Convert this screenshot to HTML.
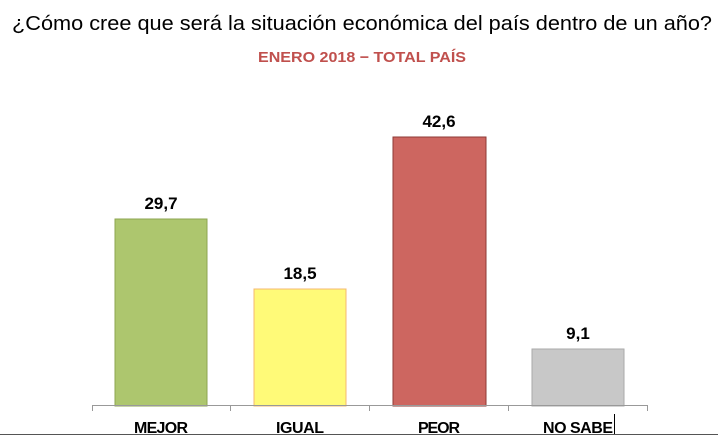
<!DOCTYPE html>
<html><head><meta charset="utf-8"><style>body{margin:0;background:#fff}</style></head><body>
<svg width="718" height="435" xmlns="http://www.w3.org/2000/svg" font-family="'Liberation Sans', sans-serif">
<rect width="718" height="435" fill="#fff"/>
<text x="12" y="30" font-size="20" textLength="700" lengthAdjust="spacingAndGlyphs" fill="#000">¿Cómo cree que será la situación económica del país dentro de un año?</text>
<text x="258" y="62" font-size="15" font-weight="bold" textLength="208" lengthAdjust="spacingAndGlyphs" fill="#c0504d">ENERO 2018 − TOTAL PAÍS</text>
<rect x="115" y="219" width="92" height="187" fill="#adc66e" stroke="#8da650"/>
<rect x="254" y="289" width="92" height="117" fill="#fffa78" stroke="#f4b870"/>
<rect x="393" y="137" width="93" height="269" fill="#cd6660" stroke="#8e3a36"/>
<rect x="532" y="349" width="92" height="57" fill="#c8c8c8" stroke="#aaa"/>
<g stroke="#999" stroke-width="1">
<line x1="92" y1="405.5" x2="647" y2="405.5"/>
<line x1="92.5" y1="405" x2="92.5" y2="411"/>
<line x1="230.5" y1="405" x2="230.5" y2="411"/>
<line x1="369.5" y1="405" x2="369.5" y2="411"/>
<line x1="508.5" y1="405" x2="508.5" y2="411"/>
<line x1="647.5" y1="405" x2="647.5" y2="411"/>
</g>
<g font-size="17" font-weight="bold" text-anchor="middle" fill="#000">
<text x="161" y="209">29,7</text>
<text x="300" y="279">18,5</text>
<text x="439" y="127">42,6</text>
<text x="578" y="339">9,1</text>
</g>
<g font-size="16" font-weight="bold" fill="#000" lengthAdjust="spacingAndGlyphs">
<text x="134" y="433" textLength="54">MEJOR</text>
<text x="276" y="433" textLength="48">IGUAL</text>
<text x="418" y="433" textLength="42">PEOR</text>
<text x="543" y="433" textLength="70">NO SABE</text>
</g>
<line x1="614.5" y1="414" x2="614.5" y2="435" stroke="#000"/>
<line x1="0" y1="434.5" x2="718" y2="434.5" stroke="#555"/>
</svg>
</body></html>
